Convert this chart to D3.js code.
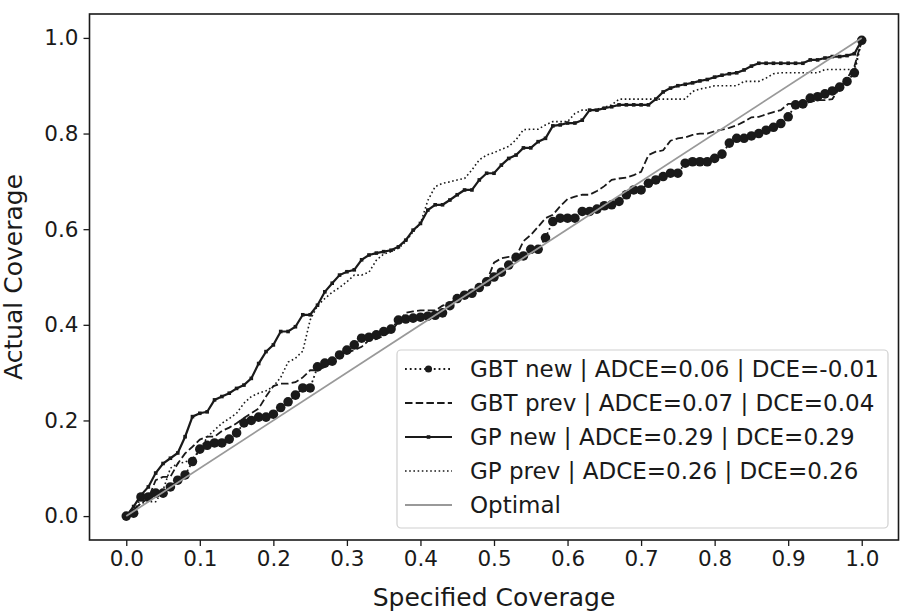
<!DOCTYPE html>
<html><head><meta charset="utf-8">
<script src="https://cdn.jsdelivr.net/npm/d3@7"></script>
<style>body{margin:0;background:#fff}svg{display:block}text{font-family:"DejaVu Sans",sans-serif;fill:#1a1a1a}</style>
</head><body><div id="chart"></div>
<script>
const xTicks = [0,0.1,0.2,0.3,0.4,0.5,0.6,0.7,0.8,0.9,1.0];
const yTicks = [0,0.2,0.4,0.6,0.8,1.0];
const specified = d3.range(0,101).map(i=>i/100);
const gbtNew = [0,0.006,0.04,0.04,0.048,0.048,0.061,0.075,0.086,0.114,0.14,0.148,0.153,0.153,0.161,0.174,0.195,0.2,0.207,0.207,0.213,0.227,0.239,0.253,0.268,0.268,0.312,0.32,0.324,0.337,0.347,0.358,0.372,0.374,0.379,0.386,0.391,0.41,0.412,0.414,0.416,0.418,0.42,0.425,0.44,0.455,0.462,0.466,0.478,0.49,0.5,0.51,0.525,0.541,0.544,0.558,0.558,0.582,0.616,0.623,0.623,0.623,0.637,0.637,0.642,0.649,0.651,0.658,0.672,0.682,0.682,0.696,0.703,0.71,0.717,0.717,0.738,0.741,0.741,0.741,0.748,0.757,0.78,0.79,0.79,0.795,0.8,0.807,0.813,0.821,0.835,0.86,0.862,0.874,0.877,0.883,0.889,0.897,0.909,0.927,0.995];
const gbtPrev = [0,0.013,0.027,0.037,0.075,0.082,0.082,0.11,0.131,0.145,0.16,0.166,0.166,0.178,0.185,0.194,0.205,0.215,0.225,0.25,0.272,0.277,0.277,0.28,0.29,0.305,0.305,0.312,0.322,0.335,0.342,0.347,0.354,0.368,0.37,0.377,0.386,0.406,0.425,0.428,0.43,0.43,0.43,0.44,0.445,0.455,0.462,0.47,0.48,0.49,0.53,0.539,0.542,0.542,0.575,0.588,0.605,0.623,0.63,0.648,0.663,0.668,0.672,0.672,0.68,0.69,0.703,0.706,0.708,0.713,0.72,0.755,0.762,0.765,0.785,0.79,0.792,0.797,0.8,0.8,0.805,0.808,0.812,0.817,0.825,0.834,0.835,0.84,0.845,0.849,0.862,0.862,0.863,0.866,0.87,0.87,0.872,0.895,0.915,0.94,0.995];
const gpNew = [0,0.02,0.044,0.061,0.09,0.11,0.121,0.132,0.166,0.208,0.215,0.218,0.243,0.25,0.257,0.267,0.274,0.288,0.319,0.344,0.358,0.386,0.386,0.396,0.421,0.421,0.441,0.469,0.487,0.504,0.511,0.515,0.536,0.546,0.55,0.553,0.556,0.563,0.577,0.598,0.612,0.64,0.651,0.651,0.661,0.672,0.682,0.682,0.703,0.717,0.717,0.734,0.748,0.755,0.77,0.77,0.783,0.79,0.816,0.818,0.822,0.822,0.828,0.849,0.849,0.853,0.856,0.86,0.86,0.86,0.86,0.86,0.872,0.887,0.895,0.9,0.903,0.906,0.91,0.913,0.918,0.922,0.925,0.927,0.933,0.941,0.947,0.947,0.947,0.947,0.947,0.947,0.947,0.954,0.954,0.958,0.961,0.961,0.963,0.967,0.995];
const gpPrev = [0,0.012,0.027,0.03,0.03,0.054,0.1,0.11,0.113,0.12,0.138,0.165,0.18,0.194,0.204,0.215,0.236,0.25,0.257,0.262,0.271,0.29,0.322,0.33,0.345,0.41,0.44,0.455,0.468,0.478,0.49,0.504,0.504,0.51,0.535,0.548,0.553,0.56,0.574,0.595,0.612,0.66,0.689,0.696,0.699,0.703,0.706,0.724,0.745,0.755,0.76,0.767,0.773,0.787,0.808,0.809,0.809,0.818,0.825,0.825,0.825,0.842,0.849,0.849,0.851,0.855,0.86,0.872,0.872,0.872,0.872,0.872,0.872,0.872,0.872,0.872,0.872,0.888,0.893,0.896,0.9,0.9,0.9,0.9,0.909,0.909,0.909,0.916,0.925,0.927,0.927,0.927,0.927,0.927,0.927,0.934,0.934,0.934,0.934,0.934,0.995];
const optimal = [0,1];
const legendLabels = ["GBT new | ADCE=0.06 | DCE=-0.01","GBT prev | ADCE=0.07 | DCE=0.04","GP new | ADCE=0.29 | DCE=0.29","GP prev | ADCE=0.26 | DCE=0.26","Optimal"];

const W=904,H=612, L=89.5,R=898.5,T=14,B=540;
const svg=d3.select("#chart").append("svg").attr("width",W).attr("height",H);
const x=d3.scaleLinear().domain([-0.05,1.05]).range([L,R]);
const y=d3.scaleLinear().domain([-0.05,1.05]).range([B,T]);
const ink="#1a1a1a";

const line=d3.line().x(d=>x(d[0])).y(d=>y(d[1]));
const styles=[
 {data:gbtNew, dash:"1.8,3", w:1.8, marker:"pent"},
 {data:gbtPrev, dash:"7.5,3.2", w:1.8},
 {data:gpNew, dash:null, w:2.2, marker:"sq"},
 {data:gpPrev, dash:"1.6,2.6", w:1.6},
];
const pent=d3.symbol().type(d3.symbolCircle).size(72);
styles.forEach(s=>{
  const pts=specified.map((v,i)=>[v,s.data[i]]);
  svg.append("path").attr("d",line(pts)).attr("fill","none").attr("stroke",ink)
    .attr("stroke-width",s.w).attr("stroke-dasharray",s.dash);
  if(s.marker==="pent"){
    svg.append("g").selectAll("path").data(pts).join("path")
      .attr("transform",d=>`translate(${x(d[0])},${y(d[1])})`).attr("d",pent).attr("fill",ink);
  } else if(s.marker==="sq"){
    svg.append("g").selectAll("rect").data(pts).join("rect")
      .attr("x",d=>x(d[0])-1.8).attr("y",d=>y(d[1])-1.8).attr("width",3.6).attr("height",3.6).attr("fill",ink);
  }
});
svg.append("path").attr("d",line(optimal.map(v=>[v,v]))).attr("stroke","#999").attr("stroke-width",1.8).attr("fill","none");

// frame
svg.append("rect").attr("x",L).attr("y",T).attr("width",R-L).attr("height",B-T).attr("fill","none").attr("stroke",ink).attr("stroke-width",1.6);

const xa=svg.append("g").attr("transform",`translate(0,${B})`)
  .call(d3.axisBottom(x).tickValues(xTicks).tickFormat(d3.format(".1f")).tickSize(6).tickPadding(5));
const ya=svg.append("g").attr("transform",`translate(${L},0)`)
  .call(d3.axisLeft(y).tickValues(yTicks).tickFormat(d3.format(".1f")).tickSize(6).tickPadding(5));
[xa,ya].forEach(a=>{a.select(".domain").remove();a.selectAll("line").attr("stroke",ink).attr("stroke-width",1.3);
  a.selectAll("text").attr("font-size",21.5).attr("font-family","DejaVu Sans").attr("fill",ink);});

svg.append("text").attr("x",(L+R)/2).attr("y",606).attr("text-anchor","middle").attr("font-size",25).text("Specified Coverage");
svg.append("text").attr("transform",`translate(22,${(T+B)/2}) rotate(-90)`).attr("text-anchor","middle").attr("font-size",25).text("Actual Coverage");

// legend
const lg=svg.append("g");
lg.append("rect").attr("x",397).attr("y",350).attr("width",491).attr("height",178).attr("rx",4)
  .attr("fill","#fff").attr("fill-opacity",0.85).attr("stroke","#d0d0d0").attr("stroke-width",1.2);
const rowY=[369,403,437,471,505];
legendLabels.forEach((lab,i)=>{
  const yy=rowY[i];
  const st=styles[i];
  const hl=lg.append("line").attr("x1",405).attr("x2",452).attr("y1",yy).attr("y2",yy);
  if(st){hl.attr("stroke",ink).attr("stroke-width",st.w).attr("stroke-dasharray",st.dash);
    if(st.marker==="pent") lg.append("path").attr("transform",`translate(428.5,${yy})`).attr("d",d3.symbol().type(d3.symbolCircle).size(40)).attr("fill",ink);
    if(st.marker==="sq") lg.append("rect").attr("x",426.7).attr("y",yy-1.8).attr("width",3.6).attr("height",3.6).attr("fill",ink);
  } else hl.attr("stroke","#999").attr("stroke-width",1.8);
  lg.append("text").attr("x",470).attr("y",yy).attr("dy","0.36em").attr("font-size",23).text(lab);
});
</script></body></html>
